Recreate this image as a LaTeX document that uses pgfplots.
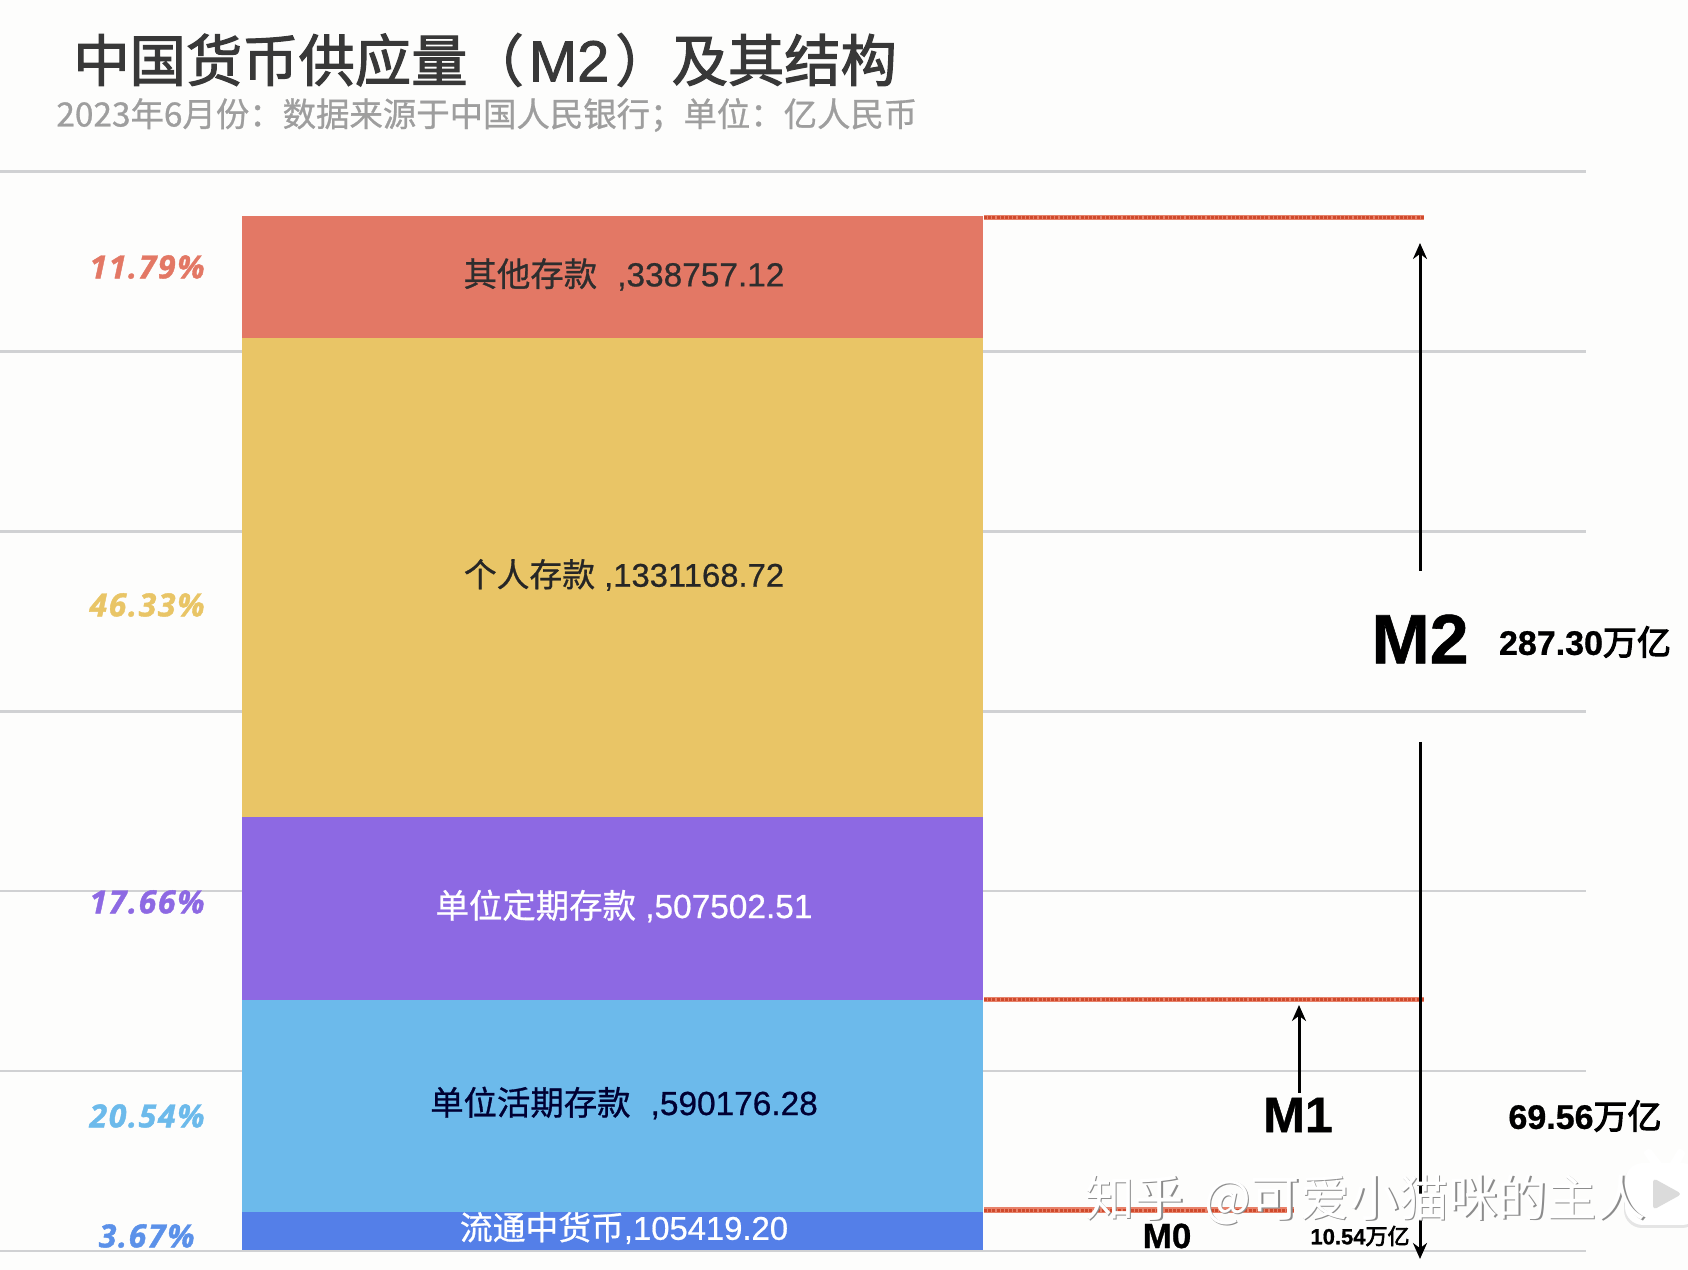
\documentclass[border=0pt]{standalone}
\usepackage{fontspec}
\usepackage{pgfplots}
\pgfplotsset{compat=1.18}
\usetikzlibrary{arrows.meta}
\setmainfont{Liberation Sans}
\newfontfamily\cjk{Noto Sans CJK SC}
\newfontfamily\cjkmed[FakeBold=2]{Noto Sans CJK SC}
\newfontfamily\cjkheavy[FakeBold=3]{Noto Sans CJK SC}
\newfontfamily\cjklab[FakeBold=0.8]{Noto Sans CJK SC}
\newfontfamily\latmed[FakeBold=1.4]{Liberation Sans}
\newfontfamily\latlab[FakeBold=0.6]{Liberation Sans}
\newfontfamily\latbold[FakeBold=0.8]{Liberation Sans Bold}
\newfontfamily\pct[FakeBold=1.2,LetterSpace=5]{Open Sans Bold Italic}
\newcommand{\fs}[1]{\fontsize{#1pt}{#1pt}\selectfont}

\definecolor{bg}{HTML}{FDFDFC}
\definecolor{gridc}{HTML}{D0D1D3}
\definecolor{cOther}{HTML}{E37865}
\definecolor{cPerson}{HTML}{E9C566}
\definecolor{cTerm}{HTML}{8D69E3}
\definecolor{cDemand}{HTML}{6CBAEB}
\definecolor{cCash}{HTML}{547FE8}
\definecolor{redline}{HTML}{E8826A}
\definecolor{redcore}{HTML}{CF4A2C}

% one x unit = one pixel of the reference, y in 亿人民币
\pgfplotsset{frame/.style={
	scale only axis, width=844pt, height=635pt,
	at={(0pt,0pt)}, anchor=south west,
	xmin=0, xmax=1688, ymin=-55571, ymax=3473187,
	hide axis, clip=false}}

\begin{document}
\begin{tikzpicture}
\path[use as bounding box, fill=bg] (0pt,0pt) rectangle (844pt,635pt);

% grid and M levels
\begin{axis}[frame]
\pgfplotsinvokeforeach{0,500000,1000000,1500000,2000000,2500000,3000000}{
	\addplot[gridc, line width=1.4pt, yshift=-0.5pt] coordinates {(0,#1) (1586,#1)};
}
\addplot[redline, line width=2.6pt] coordinates {(984,2868000) (1424,2868000)};
\addplot[redcore, line width=1.5pt, dash pattern=on 1.5pt off 0.6pt] coordinates {(984,2868000) (1424,2868000)};
\addplot[redline, line width=2.6pt] coordinates {(984,695595) (1424,695595)};
\addplot[redcore, line width=1.5pt, dash pattern=on 1.5pt off 0.6pt] coordinates {(984,695595) (1424,695595)};
\addplot[redline, line width=2.6pt] coordinates {(984,111000) (1294,111000)};
\addplot[redcore, line width=1.5pt, dash pattern=on 1.5pt off 0.6pt] coordinates {(984,111000) (1294,111000)};
\end{axis}

% money supply stack
\begin{axis}[frame, ybar stacked, bar width=370.5pt]
\addplot[fill=cCash, draw=none] coordinates {(612.5,105419.20)};
\addplot[fill=cDemand, draw=none] coordinates {(612.5,590176.28)};
\addplot[fill=cTerm, draw=none] coordinates {(612.5,507502.51)};
\addplot[fill=cPerson, draw=none] coordinates {(612.5,1331168.72)};
\addplot[fill=cOther, draw=none] coordinates {(612.5,338757.12)};
\end{axis}

% texts and arrows, positions in reference pixels
\begin{scope}[x=0.5pt, y=-0.5pt, shift={(0pt,635pt)}, every node/.style={inner sep=0pt}]
\node[anchor=west, text=black!78] at (73,60) {\fs{28.15}\cjkmed 中国货币供应量（\hspace{2.5pt}{\latmed\fs{29}M2}\hspace{3pt}）及其结构};
\node[anchor=west, text=black!38] at (56,115) {\fs{16.7}\cjklab 2023年6月份：数据来源于中国人民银行；单位：亿人民币};

\node[text=black!82] at (624,274.5) {\fs{16.7}\latlab{\cjklab 其他存款}\hspace{0.6em},338757.12};
\node[text=black!85] at (624,575) {\fs{16.4}\latlab{\cjklab 个人存款} ,1331168.72};
\node[text=white] at (624,906) {\fs{16.7}\latlab{\cjklab 单位定期存款} ,507502.51};
\node[text=black!80!blue] at (624,1103) {\fs{16.7}\latlab{\cjklab 单位活期存款}\hspace{0.6em},590176.28};
\node[text=white] at (624,1228) {\fs{16.4}\latlab{\cjklab 流通中货币},105419.20};

\node[anchor=east, text=cOther] at (205,267) {\fs{16}\pct 11.79\%};
\node[anchor=east, text=cPerson] at (205,605) {\fs{16}\pct 46.33\%};
\node[anchor=east, text=cTerm] at (205,902) {\fs{16}\pct 17.66\%};
\node[anchor=east, text=cDemand] at (205,1116) {\fs{16}\pct 20.54\%};
\node[anchor=east, text=cCash!70!cDemand] at (195,1236) {\fs{16}\pct 3.67\%};

\draw[black, line width=1.5pt, -{Stealth[length=8pt,width=7pt]}] (1420,571) -- (1420,243);
\draw[black, line width=1.5pt, -{Stealth[length=8pt,width=7pt]}] (1420,742) -- (1420,1259);
\draw[black, line width=1.5pt, -{Stealth[length=8pt,width=7pt]}] (1299,1093) -- (1299,1005);

\node at (1420,639) {\fs{35}\latbold M2};
\node at (1585,642) {\fs{17}\latbold 287.30{\cjkheavy 万亿}};
\node at (1298,1115) {\fs{25}\latbold M1};
\node at (1585,1116) {\fs{17}\latbold 69.56{\cjkheavy 万亿}};
\node at (1167,1236) {\fs{17.5}\latbold M0};
\node at (1360,1236) {\fs{11}\latbold 10.54{\cjkheavy 万亿}};

% player icon and watermark
\fill[black!10, rounded corners=9pt] (1624,1165) rectangle (1700,1228);
\fill[white, rounded corners=9pt] (1625,1163) rectangle (1700,1225);
\fill[white, rounded corners=1pt] (1643,1152) -- (1650,1148) -- (1664,1166) -- (1655,1170) -- cycle;
\fill[white, rounded corners=1pt] (1686,1152) -- (1679,1148) -- (1668,1166) -- (1677,1170) -- cycle;
\fill[black!14, rounded corners=2pt] (1653,1178) -- (1682,1194) -- (1653,1210) -- cycle;
\node[anchor=west, text=black!45] at (1086.5,1201) {\fs{24.7}\cjk 知乎\hspace{4.5pt} @可爱小猫咪的主人};
\node[anchor=west, text=white] at (1085,1200) {\fs{24.7}\cjk 知乎\hspace{4.5pt} @可爱小猫咪的主人};
\end{scope}
\end{tikzpicture}
\end{document}
